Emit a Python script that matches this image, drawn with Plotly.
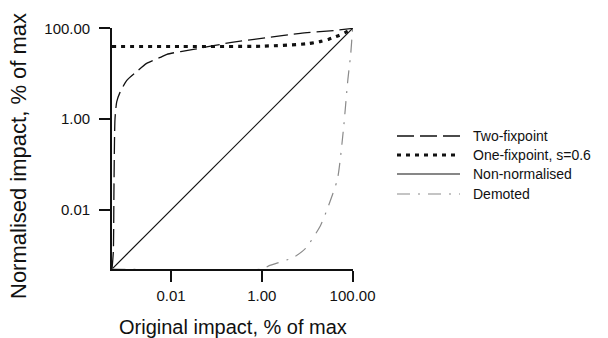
import plotly.graph_objects as go

# ---- data (% of max, log-log) ----
two_fix_x = [0.0005, 0.000535, 0.000553, 0.000582, 0.000635, 0.00075, 0.00106, 0.00176,
             0.0029, 0.0058, 0.0081, 0.031, 0.236, 1.33, 7.1, 38.0, 100.0]
two_fix_y = [0.0005, 0.0012, 0.034, 1.0, 2.4, 3.9, 7.2, 11.3,
             17.0, 23.0, 27.0, 34.5, 50.0, 63.0, 78.0, 90.0, 100.0]

one_fix_x = [0.0005, 0.01, 1.0, 10.0, 20.0, 30.0, 50.0, 70.0, 100.0]
one_fix_y = [40.0, 40.0, 40.6, 46.0, 52.0, 58.0, 70.0, 82.0, 100.0]

non_norm_x = [0.0005, 100.0]
non_norm_y = [0.0005, 100.0]

demoted_x = [0.0005, 1.0, 1.5, 5.0, 9.1, 19.6, 29.4, 46.5, 63.0, 79.0, 91.0, 100.0]
demoted_y = [0.0005, 0.0005, 0.0006, 0.0009, 0.0014, 0.0045, 0.0123, 0.048, 0.6, 7.6, 27.0, 100.0]

series_names = ["Two-fixpoint", "One-fixpoint, s=0.6", "Non-normalised", "Demoted"]
tick_vals = [0.01, 1, 100]
tick_text = ["0.01", "1.00", "100.00"]
x_title = "Original impact, % of max"
y_title = "Normalised impact, % of max"

# ---- styles ----
FONT = "Liberation Sans, Arial, sans-serif"
styles = [
    dict(color="#111111", width=1.3, dash="17px,6px"),
    dict(color="#111111", width=3.2, dash="4px,5px"),
    dict(color="#111111", width=1.2, dash="solid"),
    dict(color="#8a8a8a", width=1.2, dash="13px,8px,2px,8px"),
]
xs = [two_fix_x, one_fix_x, non_norm_x, demoted_x]
ys = [two_fix_y, one_fix_y, non_norm_y, demoted_y]

fig = go.Figure()
for name, x, y, st in zip(series_names, xs, ys, styles):
    fig.add_trace(go.Scatter(x=x, y=y, mode="lines", name=name,
                             line=dict(**st, shape="spline", smoothing=0.6),
                             showlegend=False, hoverinfo="skip"))

L, R, T, B = 112, 255, 28, 69
W, H = 608, 338
pw, ph = W - L - R, H - T - B

def px2paper(px):
    return (px - L) / pw

def py2paper(py):
    return (H - B - py) / ph

# custom legend (long samples like the reference)
leg_y = [136, 155, 174, 194]
shapes = []
annotations = []
for name, st, yy in zip(series_names, styles, leg_y):
    shapes.append(dict(type="line", xref="paper", yref="paper",
                       x0=px2paper(397), x1=px2paper(460), y0=py2paper(yy), y1=py2paper(yy),
                       line=dict(color=st["color"], width=st["width"], dash=st["dash"])))
    annotations.append(dict(text=name, xref="paper", yref="paper", x=px2paper(471), y=py2paper(yy),
                            xanchor="left", yanchor="middle", showarrow=False,
                            font=dict(family=FONT, size=14, color="#111111")))

annotations.append(dict(text=x_title, xref="paper", yref="paper", x=px2paper(233), y=py2paper(327),
                        xanchor="center", yanchor="middle", showarrow=False,
                        font=dict(family=FONT, size=20, color="#111111")))
annotations.append(dict(text=y_title, xref="paper", yref="paper", x=px2paper(18), y=py2paper(156),
                        xanchor="center", yanchor="middle", showarrow=False, textangle=-90,
                        font=dict(family=FONT, size=22, color="#111111")))

axis_common = dict(type="log", range=[-3.301, 2.01], showline=True, linecolor="#111111", linewidth=1.6,
                   ticks="outside", ticklen=11, tickwidth=1.6, tickcolor="#111111",
                   tickvals=tick_vals, ticktext=tick_text, showgrid=False, zeroline=False,
                   tickfont=dict(family=FONT, size=15, color="#111111"))

fig.update_layout(
    width=W, height=H, margin=dict(l=L, r=R, t=T, b=B, autoexpand=False),
    paper_bgcolor="white", plot_bgcolor="white",
    xaxis=dict(**axis_common, ticklabelstandoff=1), yaxis=dict(**axis_common, ticklabelstandoff=6),
    shapes=shapes, annotations=annotations, showlegend=False,
)
fig.write_html("out.html", config={"displayModeBar": False},
               post_script="document.body.style.margin='0px';document.body.style.padding='0px';")
